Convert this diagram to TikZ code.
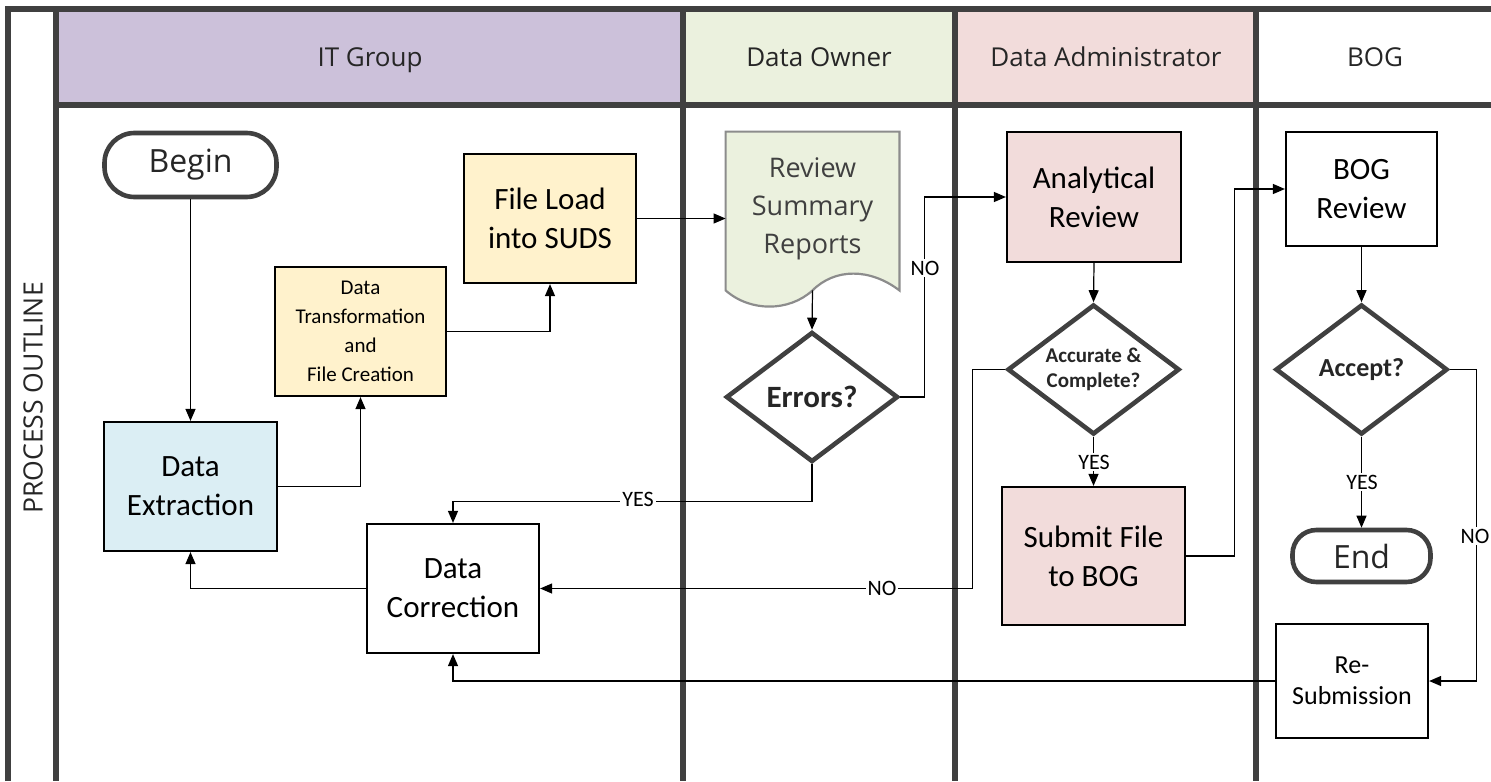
\documentclass[tikz,border=0pt]{standalone}
\usepackage{fontspec}
\setmainfont{Carlito}
\newfontfamily\osans{Open Sans}
\usetikzlibrary{arrows.meta,shapes.geometric}
\definecolor{framecol}{HTML}{404040}
\definecolor{itfill}{HTML}{CCC1DA}
\definecolor{dofill}{HTML}{EBF1DE}
\definecolor{dafill}{HTML}{F2DCDB}
\definecolor{yfill}{HTML}{FFF2CC}
\definecolor{bfill}{HTML}{DBEEF4}
\definecolor{docline}{HTML}{8C8C8C}
\definecolor{txtdark}{HTML}{262626}
\begin{document}
\begin{tikzpicture}[x=0.5pt,y=-0.5pt,
  lane/.style={draw=framecol,line width=2.8pt},
  hdr/.style={font=\osans\fontsize{13}{15}\selectfont,text=txtdark,anchor=base,inner sep=0pt},
  procbox/.style={rectangle,draw=black,line width=1.1pt,align=center,inner sep=2pt,
    font=\fontsize{15.5}{19.5}\selectfont},
  terminal/.style={rectangle,rounded corners=15pt,draw=framecol,line width=2.3pt,fill=white,
    font=\osans\fontsize{16}{19}\selectfont,text=txtdark,inner sep=0pt},
  decision/.style={diamond,draw=framecol,line width=2.3pt,fill=white,inner sep=0pt,aspect=1.32,
    minimum width=86pt,minimum height=65pt,align=center,text=txtdark},
  conn/.style={-{Triangle[length=6pt,width=5pt]},line width=0.6pt,draw=black},
  lbl/.style={fill=white,inner sep=1pt,font=\fontsize{11}{13}\selectfont}]
\useasboundingbox (0,0) rectangle (1491,781);
% header fills
\fill[itfill] (56,9) rectangle (683,105);
\fill[dofill] (683,9) rectangle (955,105);
\fill[dafill] (955,9) rectangle (1256,105);
% frame and lanes
\draw[lane] (8,781) -- (8,9) -- (1491,9);
\draw[lane] (56,105) -- (1491,105);
\draw[lane] (56,9) -- (56,781);
\draw[lane] (683,9) -- (683,781);
\draw[lane] (955,9) -- (955,781);
\draw[lane] (1256,9) -- (1256,781);
% headers
\node[hdr] (hit) at (370,67) {IT Group};
\node[hdr] (hdo) at (819,67) {Data Owner};
\node[hdr] (hda) at (1106,67) {Data Administrator};
\node[hdr] (hbog) at (1375,67) {BOG};
\node[font=\osans\fontsize{13.3}{15}\selectfont,text=txtdark,rotate=90] (proc) at (33,398) {PROCESS OUTLINE};
% nodes
\node[terminal,minimum width=86pt,minimum height=32pt] (begin) at (190.5,165) {Begin};
\node[procbox,fill=yfill,minimum width=86pt,minimum height=64.5pt] (fileload) at (550,218.5) {File Load\\into SUDS};
\node[procbox,fill=yfill,minimum width=85.5pt,minimum height=64.5pt,font=\fontsize{10.5}{14.5}\selectfont] (transf) at (360.5,331.5) {Data\\Transformation\\and\\File Creation};
\node[procbox,fill=bfill,minimum width=86.5pt,minimum height=64.5pt] (extract) at (190.5,486.5) {Data\\Extraction};
\node[procbox,fill=white,minimum width=86pt,minimum height=64.5pt] (correct) at (453,588.5) {Data\\Correction};
% document shape
\node[minimum width=86.5pt,minimum height=79pt,inner sep=0pt] (review) at (812.5,211) {};
\draw[fill=dofill,draw=docline,line width=1.1pt] (review.north west) -- (review.north east) -- (review.south east)
  .. controls (870,268) and (835,268) .. (review.south)
  .. controls (789,312) and (750,312) .. (review.south west) -- cycle;
\node[font=\osans\fontsize{13.5}{19}\selectfont,text=framecol,align=center] (revtext) at (812.5,209) {Review\\Summary\\Reports};
\node[decision,font=\bfseries\fontsize{15.5}{18}\selectfont] (errors) at (812,397) {Errors?};
\node[procbox,fill=dafill,minimum width=87pt,minimum height=65pt] (analytical) at (1094,197) {Analytical\\Review};
\node[decision,font=\bfseries\fontsize{10.5}{12.5}\selectfont] (accurate) at (1093.5,369.5) {Accurate \&\\Complete?};
\node[procbox,fill=dafill,minimum width=91.5pt,minimum height=69pt] (submit) at (1093.5,556) {Submit File\\to BOG};
\node[procbox,fill=white,minimum width=75.5pt,minimum height=57pt] (bogreview) at (1361.5,189) {BOG\\Review};
\node[decision,font=\bfseries\fontsize{13}{15}\selectfont] (accept) at (1361.5,369.5) {Accept?};
\node[terminal,minimum width=69pt,minimum height=26pt,rounded corners=12pt] (end) at (1361.5,556) {End};
\node[procbox,fill=white,minimum width=76pt,minimum height=57pt,font=\fontsize{13}{15.5}\selectfont] (resub) at (1352,681) {Re-\\Submission};
% connectors
\draw[conn] (begin.south) -- (extract.north);
\draw[conn] (extract.east) -| (transf.south);
\draw[conn] (transf.east) -| (fileload.south);
\draw[conn] (fileload.east) -- (fileload.east -| review.west);
\draw[conn] (review.south) -- (errors.north);
\draw[conn] (errors.east) -- ++(24,0) |- (analytical.west);
\draw[conn] (errors.south) -- ++(0,37) -| (correct.north);
\draw[conn] (analytical.south) -- (accurate.north);
\draw[conn] (accurate.west) -- ++(-33,0) |- (correct.east);
\draw[conn] (accurate.south) -- (submit.north);
\draw[conn] (submit.east) -- ++(48,0) |- (bogreview.west);
\draw[conn] (bogreview.south) -- (accept.north);
\draw[conn] (accept.south) -- (end.north);
\draw[conn] (accept.east) -- ++(27,0) |- (resub.east);
\draw[conn] (resub.west) -| (correct.south);
\draw[conn] (correct.west) -| (extract.south);
% labels
\node[lbl] (l1) at (925,268) {NO};
\node[lbl] (l2) at (638,499) {YES};
\node[lbl] (l3) at (882,588) {NO};
\node[lbl] (l4) at (1094,462) {YES};
\node[lbl] (l5) at (1362,482) {YES};
\node[lbl] (l6) at (1475,536) {NO};
\end{tikzpicture}
\end{document}
